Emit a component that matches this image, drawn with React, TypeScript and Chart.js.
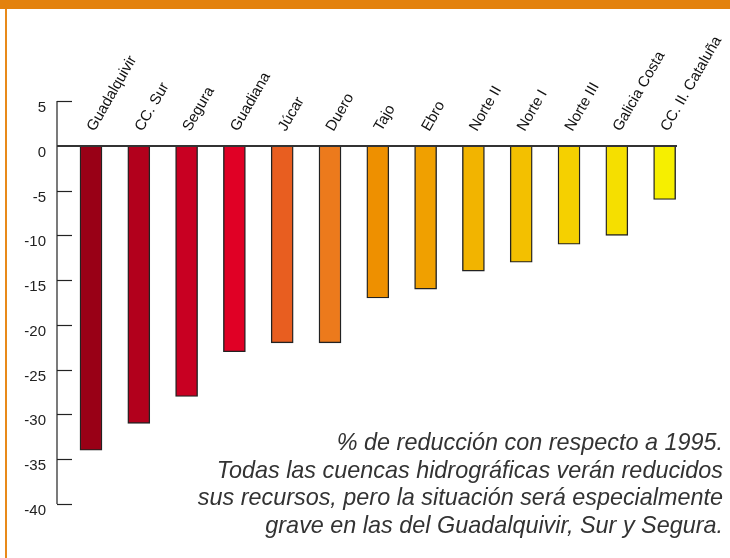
import React, { useEffect, useRef } from "react";
import { Chart, registerables } from "chart.js";

Chart.register(...registerables);

const categories = [
  "Guadalquivir", "CC. Sur", "Segura", "Guadiana", "Júcar", "Duero", "Tajo",
  "Ebro", "Norte II", "Norte I", "Norte III", "Galicia Costa", "CC. II. Cataluña",
];
const values = [-34, -31, -28, -23, -22, -22, -17, -16, -14, -13, -11, -10, -6];
const barColors = [
  "#990016", "#b2001c", "#c80022", "#e00025", "#e85e20", "#ec7a1c", "#ee9000",
  "#f0a000", "#f2b400", "#f3c000", "#f5d000", "#f5df00", "#f6ef00",
];
const yTicks = [5, 0, -5, -10, -15, -20, -25, -30, -35, -40];
const captionLines = [
  "% de reducción con respecto a 1995.",
  "Todas las cuencas hidrográficas verán reducidos",
  "sus recursos, pero la situación será especialmente",
  "grave en las del Guadalquivir, Sur y Segura.",
];

const decorPlugin = {
  id: "decor",
  beforeDraw(chart: any) {
    const { ctx, width, height } = chart;
    ctx.save();
    ctx.fillStyle = "#ffffff";
    ctx.fillRect(0, 0, width, height);
    ctx.fillStyle = "#e3820e";
    ctx.fillRect(0, 0, width, 9);
    ctx.fillStyle = "#e88a1a";
    ctx.fillRect(5, 9, 2, height - 9);
    ctx.restore();
  },
  afterDatasetsDraw(chart: any) {
    const { ctx, chartArea, scales } = chart;
    const y = scales.y;
    const x = scales.x;
    ctx.save();
    // y axis line
    ctx.strokeStyle = "#222";
    ctx.lineWidth = 1.2;
    ctx.beginPath();
    ctx.moveTo(chartArea.left, y.getPixelForValue(yTicks[0]));
    ctx.lineTo(chartArea.left, y.getPixelForValue(yTicks[yTicks.length - 1]));
    ctx.stroke();
    // ticks + labels
    ctx.font = "15px 'Liberation Sans', Arial, sans-serif";
    ctx.fillStyle = "#222";
    ctx.textAlign = "right";
    ctx.textBaseline = "middle";
    yTicks.forEach((t) => {
      const py = Math.round(y.getPixelForValue(t)) + 0.5;
      if (t !== 0) {
        ctx.beginPath();
        ctx.moveTo(chartArea.left, py);
        ctx.lineTo(chartArea.left + 15, py);
        ctx.stroke();
      }
      ctx.fillText(String(t), chartArea.left - 11, py + 6.5);
    });
    // zero line
    ctx.strokeStyle = "#333";
    ctx.lineWidth = 2;
    const z = Math.round(y.getPixelForValue(0));
    ctx.beginPath();
    ctx.moveTo(chartArea.left, z);
    ctx.lineTo(chartArea.right, z);
    ctx.stroke();
    // category labels
    ctx.font = "15px 'Liberation Sans', Arial, sans-serif";
    ctx.fillStyle = "#111";
    ctx.textAlign = "left";
    ctx.textBaseline = "middle";
    categories.forEach((c, i) => {
      const px = x.getPixelForValue(i);
      ctx.save();
      ctx.translate(px, z - 16);
      ctx.rotate(-Math.PI / 3);
      ctx.fillText(c, 0, 0);
      ctx.restore();
    });
    // caption
    ctx.font = "italic 23.4px 'Liberation Sans', Arial, sans-serif";
    ctx.fillStyle = "#333";
    ctx.textAlign = "right";
    ctx.textBaseline = "alphabetic";
    captionLines.forEach((line, i) => {
      ctx.fillText(line, 723, 450 + i * 27.7);
    });
    ctx.restore();
  },
};

export default function App() {
  const ref = useRef<HTMLCanvasElement>(null);
  useEffect(() => {
    document.body.style.margin = "0";
    const chart = new Chart(ref.current!, {
      type: "bar",
      data: {
        datasets: [
          {
            data: values.map((v, i) => ({ x: i, y: v })),
            backgroundColor: barColors,
            borderColor: "#222",
            borderWidth: 1.4,
            borderSkipped: false,
            barThickness: 22,
          },
        ],
      },
      options: {
        animation: false,
        responsive: false,
        layout: { padding: { left: 57, right: 53, top: 101, bottom: 54 } },
        plugins: { legend: { display: false }, tooltip: { enabled: false } },
        scales: {
          x: { type: "linear", display: false, offset: false, min: -0.711, max: 12.259 },
          y: { display: false, min: -40, max: 5 },
        },
      },
      plugins: [decorPlugin],
    });
    return () => chart.destroy();
  }, []);
  return (
    <div style={{ width: 730, height: 558 }}>
      <canvas ref={ref} width={730} height={558} />
    </div>
  );
}
